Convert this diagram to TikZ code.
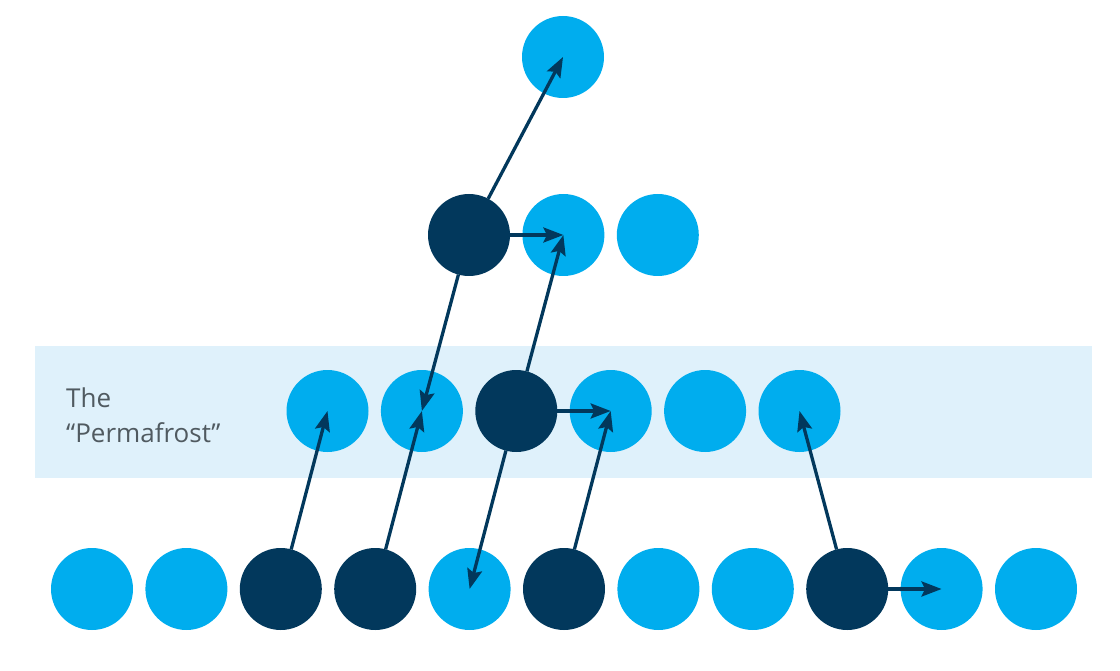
\documentclass[tikz,border=0pt]{standalone}
\usepackage{fontspec}
\setmainfont{Open Sans}
\usetikzlibrary{
	positioning,
	arrows.meta}
\definecolor{blockblue}{HTML}{00ADEE}
\definecolor{blocknavy}{HTML}{02385C}
\definecolor{frostband}{HTML}{DFF1FB}
\definecolor{frosttext}{HTML}{505A60}
\tikzset{
	chain tree/.style={
		x=1pt, y=1pt,
		node distance=12.4pt,
		},
	block size/.store in=\bsize,
	block size = 82pt,
	block/.style={
		circle,
		fill=blockblue,
		inner sep=0pt,
		outer sep=0pt,
		minimum size=\bsize
	},
	signed/.style={
		block,
		fill=blocknavy
	},
	ref/.style={
		draw=blocknavy,
		line width=3.3pt,
		-{Stealth[length=20pt, width=15pt, inset=3.5pt]}
	},
}

\begin{document}
\begin{tikzpicture}[chain tree]
	\useasboundingbox (0,0) rectangle (1120,-671);
	\fill[frostband] (35,-346) rectangle (1092,-478);
	\node[anchor=base west, align=left, font=\fontsize{26}{35}\selectfont, text=frosttext, inner sep=0pt]
		(lbl) at (66,-442) {The\\“Permafrost”};
%
	\node[block]                 (b0)  at (92,-589) {};
	\node[block, right=of b0]    (b1)  {};
	\node[signed, right=of b1]   (b2)  {};
	\node[signed, right=of b2]   (b3)  {};
	\node[block, right=of b3]    (b4)  {};
	\node[signed, right=of b4]   (b5)  {};
	\node[block, right=of b5]    (b6)  {};
	\node[block, right=of b6]    (b7)  {};
	\node[signed, right=of b7]   (b8)  {};
	\node[block, right=of b8]    (b9)  {};
	\node[block, right=of b9]    (b10) {};
%
	\node[block]                 (p0)  at (327.5,-411) {};
	\node[block, right=of p0]    (p1)  {};
	\node[signed, right=of p1]   (p2)  {};
	\node[block, right=of p2]    (p3)  {};
	\node[block, right=of p3]    (p4)  {};
	\node[block, right=of p4]    (p5)  {};
%
	\node[signed]                (r0)  at (469,-235) {};
	\node[block, right=of r0]    (r1)  {};
	\node[block, right=of r1]    (r2)  {};
%
	\node[block]                 (t0)  at (563,-57) {};
%
	\draw[ref] (r0) -- (t0.center);
	\draw[ref] (r0) -- (r1.center);
	\draw[ref] (r0) -- (p1.center);
	\draw[ref] (p2) -- (r1.center);
	\draw[ref] (p2) -- (p3.center);
	\draw[ref] (p2) -- (b4.center);
	\draw[ref] (b2) -- (p0.center);
	\draw[ref] (b3) -- (p1.center);
	\draw[ref] (b5) -- (p3.center);
	\draw[ref] (b8) -- (p5.center);
	\draw[ref] (b8) -- (b9.center);
\end{tikzpicture}
\end{document}
